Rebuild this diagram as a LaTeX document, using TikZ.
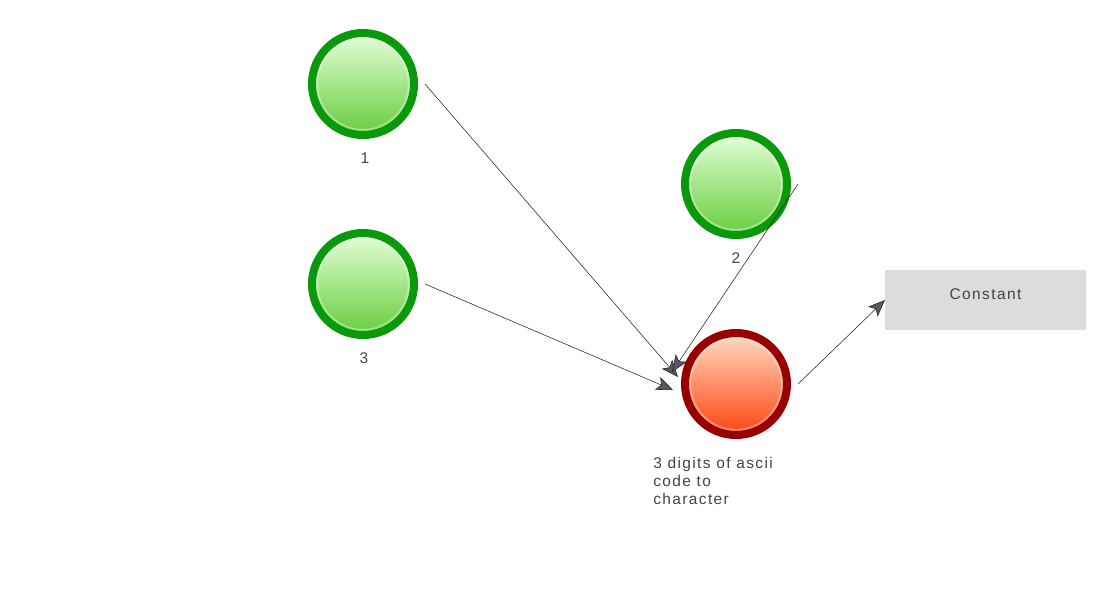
\documentclass[tikz,border=0pt]{standalone}
\usepackage{fontspec}
\usetikzlibrary{arrows.meta}
\newfontfamily\lblfont[LetterSpace=9]{Liberation Sans}
\definecolor{okring}{HTML}{0A990A}
\definecolor{oktop}{HTML}{E4FFD6}
\definecolor{okbot}{HTML}{66CC3E}
\definecolor{errring}{HTML}{990000}
\definecolor{errtop}{HTML}{FFDCC2}
\definecolor{errbot}{HTML}{FF4210}
\definecolor{boxgray}{HTML}{DCDCDC}
\definecolor{txtgray}{HTML}{444444}

\begin{document}
\begin{tikzpicture}[x=0.025cm, y=-0.025cm,
	ball/.style={circle, line width=0.2cm, minimum size=2.55cm, inner sep=0pt, outer sep=0.275cm,
		path picture={\draw[white, opacity=0.35, line width=0.06cm] (path picture bounding box.center) circle (1.15cm);}},
	okball/.style={ball, draw=okring, top color=oktop, bottom color=okbot},
	errball/.style={ball, draw=errring, top color=errtop, bottom color=errbot},
	lbl/.style={font=\lblfont\fontsize{11}{12.5}\selectfont, text=txtgray},
	constbox/.style={lbl, fill=boxgray, minimum width=5.025cm, minimum height=1.5cm, outer sep=0pt,
		text height=0.28cm, text depth=0.3cm},
	link/.style={draw=black!85, line width=0.4pt, -{Stealth[length=0.42cm, width=0.34cm, inset=0.1cm, fill=black!65]}}]
	\useasboundingbox (0,0) rectangle (1100,600);
	
	%inputs
	\node[okball] (n1) at (363,84) {};
	\node[okball] (n3) at (363,284) {};
	\node[okball] (n2) at (736,184) {};
	\node[lbl] (n1lbl) at (365,158) {1};
	\node[lbl] (n3lbl) at (364,358) {3};
	\node[lbl] (n2lbl) at (736,258) {2};
	
	%converter
	\node[errball] (conv) at (736,384) {};
	\node[lbl, anchor=west, align=left, inner sep=0pt] (convlbl) at (653,481) {3 digits of ascii\\code to\\character};
	
	%output
	\node[constbox] (const) at (985.5,300) {Constant};
	
	%connections
	\draw[link] (n1.east) -- ([shift={(4,-7)}]conv.west);
	\draw[link] (n2.east) -- ([shift={(-2,-12)}]conv.west);
	\draw[link] (n3.east) -- ([shift={(-1,6)}]conv.west);
	\draw[link] (conv.east) -- (const.west);
\end{tikzpicture}
\end{document}
